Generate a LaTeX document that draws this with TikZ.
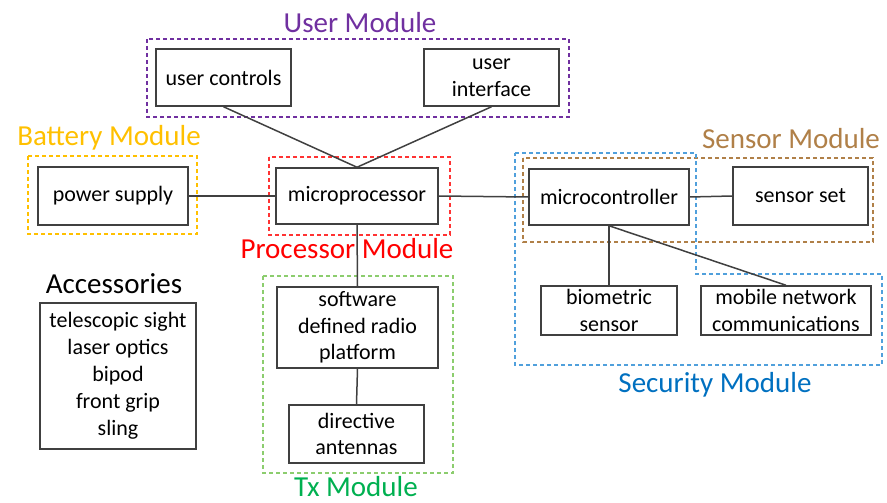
\documentclass[tikz,border=0pt]{standalone}
\usepackage{fontspec}
\setmainfont{Carlito}
\usetikzlibrary{positioning}

\definecolor{usercol}{RGB}{112,48,160}
\definecolor{battcol}{RGB}{255,192,0}
\definecolor{proccol}{RGB}{255,0,0}
\definecolor{senscol}{RGB}{176,128,72}
\definecolor{secline}{RGB}{80,160,220}
\definecolor{sectext}{RGB}{0,112,192}
\definecolor{txline}{RGB}{140,205,110}
\definecolor{txtext}{RGB}{0,176,80}

\tikzset{
  blk/.style={draw=black!75, line width=1.5pt, fill=white, align=center, inner sep=0pt,
    font=\fontsize{22}{26.5}\selectfont},
  modframe/.style={line width=1.4pt, dash pattern=on 4pt off 3pt},
  modlabel/.style={anchor=base, inner sep=0pt, font=\fontsize{29}{34}\selectfont},
  link/.style={draw=black!75, line width=1.5pt}
}

\begin{document}
\begin{tikzpicture}[x=1pt,y=-1pt]
        \useasboundingbox (0,0) rectangle (887,503);
        % module frames
        \draw[modframe,usercol] (147,39) rectangle (569,117);
        \draw[modframe,battcol] (28,156) rectangle (197,234);
        \draw[modframe,proccol!80] (269,157) rectangle (450,235);
        \draw[modframe,senscol] (523,158) rectangle (873,242);
        \draw[modframe,secline] (515,153) -- (696,153) -- (696,274) -- (882,274) -- (882,365) -- (515,365) -- cycle;
        \draw[modframe,txline] (263,276) rectangle (453,473);
        % module names
        \node[modlabel,usercol] (userlbl) at (360,33) {User Module};
        \node[modlabel,battcol] (battlbl) at (109,145) {Battery Module};
        \node[modlabel,proccol] (proclbl) at (347,258) {Processor Module};
        \node[modlabel,senscol] (senslbl) at (791,148) {Sensor Module};
        \node[modlabel,sectext] (seclbl) at (715,392) {Security Module};
        \node[modlabel,txtext] (txlbl) at (356,496) {Tx Module};
        \node[modlabel] (acclbl) at (114,293) {Accessories};
        % blocks
        \node[blk,minimum width=135,minimum height=57] (uc) at (223.5,77.5) {user controls};
        \node[blk,minimum width=135,minimum height=57] (ui) at (491.5,77.5) {user\\interface};
        \node[blk,minimum width=150,minimum height=58] (ps) at (113,196) {power supply};
        \node[blk,minimum width=162,minimum height=56] (mp) at (357,196) {microprocessor};
        \node[blk,minimum width=160,minimum height=56] (mc) at (609,197) {microcontroller};
        \node[blk,minimum width=135,minimum height=58] (ss) at (800.5,196) {sensor set};
        \node[blk,minimum width=136,minimum height=49] (bio) at (609,310.5) {biometric\\sensor};
        \node[blk,minimum width=170,minimum height=49] (mob) at (786,310.5) {mobile network\\communications};
        \node[blk,minimum width=161,minimum height=81] (sdr) at (357.5,327.5) {software\\defined radio\\platform};
        \node[blk,minimum width=135,minimum height=58] (ant) at (356.5,434) {directive\\antennas};
        \node[blk,minimum width=156,minimum height=146,font=\fontsize{22}{27}\selectfont] (acc) at (118,376)
             {telescopic sight\\laser optics\\bipod\\front grip\\sling};
        % connections
        \draw[link] (uc.south) -- (mp.north) -- (ui.south);
        \draw[link] (ps.east) -- (mp.west);
        \draw[link] (mp.east) -- (mc.west);
        \draw[link] (mc.east) -- (ss.west);
        \draw[link] (mp.south) -- (sdr.north);
        \draw[link] (sdr.south) -- (ant.north);
        \draw[link] (mc.south) -- (bio.north);
        \draw[link] (mc.south) -- (mob.north);
\end{tikzpicture}
\end{document}
